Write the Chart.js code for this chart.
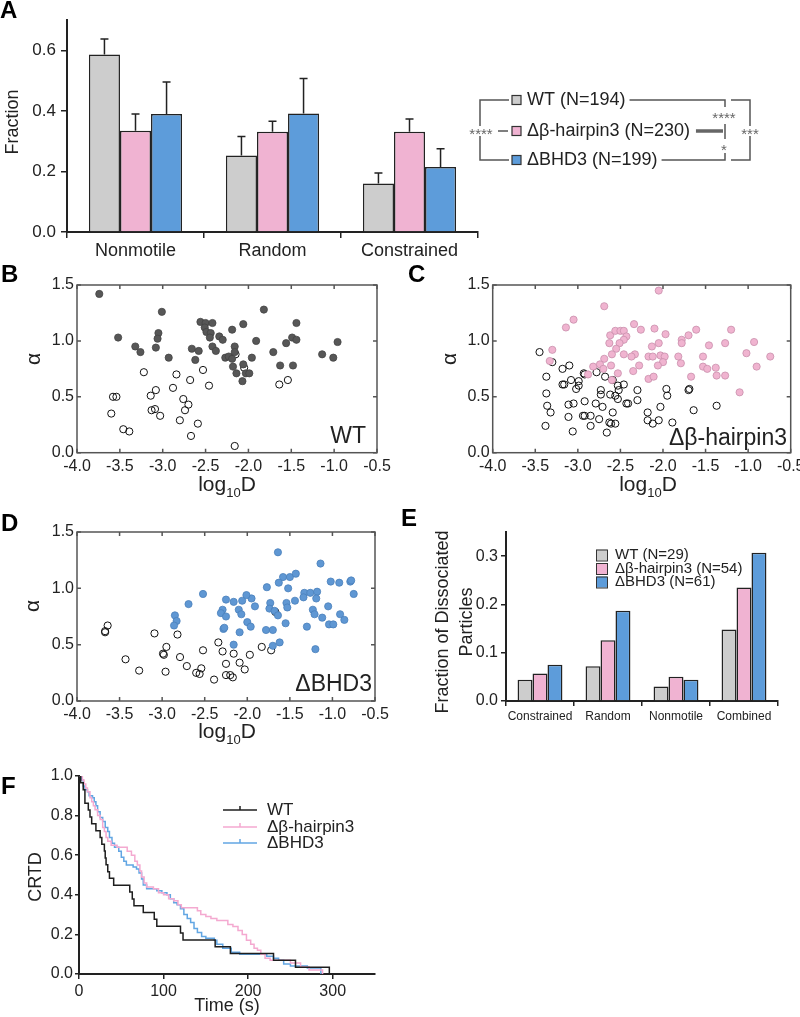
<!DOCTYPE html>
<html>
<head>
<meta charset="utf-8">
<script src="https://cdn.jsdelivr.net/npm/chart.js@4.4.1/dist/chart.umd.min.js"></script>
<style>
  html, body { margin: 0; padding: 0; background: #fff; }
  body { width: 800px; height: 1017px; position: relative; overflow: hidden; }
  canvas { position: absolute; }
  .tag { position: absolute; font: bold 24px "Liberation Sans", Arial, sans-serif; color: #000; line-height: 1; }
</style>
</head>
<body>
<canvas id="chartA" width="800" height="270" style="left:0;top:0"></canvas>
<canvas id="chartB" width="400" height="245" style="left:0;top:270px"></canvas>
<canvas id="chartC" width="400" height="245" style="left:400px;top:270px"></canvas>
<canvas id="chartD" width="400" height="250" style="left:0;top:500px"></canvas>
<canvas id="chartE" width="400" height="230" style="left:400px;top:500px"></canvas>
<canvas id="chartF" width="400" height="287" style="left:0;top:730px"></canvas>
<div class="tag" style="left:0;top:-2px">A</div>
<div class="tag" style="left:1px;top:262px">B</div>
<div class="tag" style="left:408px;top:262px">C</div>
<div class="tag" style="left:1px;top:511px">D</div>
<div class="tag" style="left:401px;top:506px">E</div>
<div class="tag" style="left:1px;top:774px">F</div>
<script>
// ---- data ----
// panel A: fraction of each motion type
var motionTypes = ['Nonmotile', 'Random', 'Constrained'];
var wtFraction = [0.586, 0.253, 0.160];
var wtFractionErr = [0.051, 0.062, 0.035];
var hpFraction = [0.334, 0.331, 0.331];
var hpFractionErr = [0.056, 0.035, 0.042];
var bhdFraction = [0.390, 0.391, 0.215];
var bhdFractionErr = [0.105, 0.116, 0.060];
var legendNamesA = ['WT (N=194)', 'Δβ-hairpin3 (N=230)', 'ΔBHD3 (N=199)'];

// panel B: WT, [log10D, alpha]
var wtMobile = [[-3.74,1.42],[-3.52,1.03],[-3.01,1.26],[-3.05,1.07],[-3.06,1.02],[-3.08,0.94],[-3.32,0.95],[-3.26,0.90],
  [-2.93,0.85],[-2.66,0.93],[-2.58,0.91],[-2.62,0.83],[-2.56,1.17],[-2.50,1.16],[-2.42,1.16],[-2.51,1.12],[-2.49,1.08],
  [-2.44,1.07],[-2.45,1.03],[-2.42,0.95],[-2.38,0.91],[-2.34,1.04],[-2.30,1.01],[-2.27,0.85],[-2.23,0.86],[-2.19,0.84],
  [-2.19,1.10],[-2.16,0.95],[-2.16,0.90],[-2.18,0.77],[-2.14,0.71],[-2.07,0.64],[-2.06,1.15],[-2.06,0.79],[-2.03,0.71],
  [-1.99,0.71],[-1.96,0.85],[-1.91,1.00],[-1.82,1.28],[-1.71,0.90],[-1.63,0.78],[-1.56,0.98],[-1.49,1.03],[-1.44,1.16],
  [-1.44,1.01],[-1.48,0.78],[-1.14,0.88],[-1.01,0.85],[-0.96,0.99]];
var wtConfined = [[-3.22,0.72],[-2.84,0.70],[-2.68,0.65],[-2.53,0.74],[-2.46,0.60],[-2.88,0.58],[-3.08,0.56],[-3.14,0.51],
  [-3.58,0.50],[-3.54,0.50],[-2.76,0.48],[-2.70,0.43],[-2.74,0.38],[-3.13,0.38],[-3.09,0.39],[-3.03,0.33],[-3.60,0.35],
  [-3.46,0.21],[-3.39,0.19],[-2.80,0.29],[-2.59,0.26],[-2.67,0.15],[-2.16,0.06],[-2.15,0.88],[-2.05,0.76],[-1.64,0.61],
  [-1.54,0.65]];

// panel C: delta beta-hairpin3
var hpMobile = [[-2.69,1.31],[-3.05,1.19],[-3.14,1.12],[-3.30,0.92],[-3.33,0.82],[-2.62,1.05],[-2.56,1.09],[-2.50,1.09],
  [-2.46,1.09],[-2.43,1.04],[-2.46,1.01],[-2.51,0.98],[-2.55,0.93],[-2.63,0.98],[-2.60,0.88],[-2.69,0.84],[-2.74,0.79],
  [-2.82,0.77],[-2.70,0.75],[-2.61,0.78],[-2.53,0.71],[-2.60,0.65],[-2.34,1.15],[-2.26,1.10],[-2.33,0.88],[-2.37,0.86],
  [-2.28,0.78],[-2.35,0.73],[-2.46,0.88],[-2.88,0.70],[-2.17,0.86],[-2.17,0.66],[-2.05,1.45],[-2.10,1.11],[-1.97,1.06],
  [-2.13,0.95],[-2.05,0.98],[-2.12,0.86],[-2.03,0.87],[-1.98,0.86],[-2.00,0.81],[-2.06,0.78],[-2.11,0.68],[-1.82,0.86],
  [-1.79,0.80],[-1.78,1.01],[-1.78,0.98],[-1.70,1.05],[-1.61,1.10],[-1.67,0.68],[-1.53,0.86],[-1.53,0.77],[-1.48,0.75],
  [-1.46,0.96],[-1.38,0.76],[-1.37,0.69],[-1.27,0.69],[-1.27,0.98],[-1.20,1.10],[-1.02,0.89],[-0.93,0.99],[-0.90,0.77],
  [-0.74,0.86],[-1.10,0.54]];
var hpConfined = [[-3.45,0.90],[-3.30,0.81],[-3.18,0.75],[-3.10,0.78],[-3.37,0.68],[-3.37,0.53],[-3.36,0.42],[-3.32,0.36],
  [-3.38,0.24],[-3.18,0.61],[-3.16,0.61],[-3.08,0.65],[-2.99,0.64],[-3.02,0.57],[-2.99,0.60],[-2.93,0.71],[-2.92,0.70],
  [-2.78,0.72],[-2.68,0.68],[-2.59,0.65],[-2.53,0.60],[-2.52,0.56],[-2.46,0.61],[-2.30,0.56],[-2.73,0.56],[-2.73,0.52],
  [-2.62,0.52],[-2.56,0.51],[-2.53,0.48],[-2.43,0.44],[-2.41,0.44],[-2.30,0.47],[-2.92,0.46],[-2.79,0.44],[-2.71,0.41],
  [-3.11,0.43],[-3.05,0.44],[-3.11,0.32],[-2.94,0.33],[-2.92,0.33],[-2.85,0.33],[-2.75,0.30],[-2.85,0.24],[-2.63,0.27],
  [-2.61,0.26],[-2.56,0.26],[-2.59,0.36],[-3.06,0.19],[-2.66,0.18],[-2.18,0.36],[-2.18,0.29],[-1.96,0.57],[-1.95,0.51],
  [-1.70,0.56],[-1.69,0.57],[-2.03,0.41],[-1.64,0.38],[-1.37,0.42],[-2.12,0.26],[-2.05,0.29],[-1.89,0.27]];

// panel D: delta BHD3
var bhdMobile = [[-2.52,0.95],[-2.69,0.86],[-2.85,0.76],[-2.83,0.71],[-2.86,0.67],[-2.25,0.90],[-2.29,0.81],[-2.31,0.78],
  [-2.25,0.75],[-2.28,0.64],[-2.27,0.65],[-1.64,1.32],[-1.14,1.22],[-1.58,1.10],[-1.50,1.10],[-1.43,1.13],[-1.63,1.05],
  [-1.77,1.01],[-1.52,1.00],[-1.33,0.96],[-1.26,0.96],[-1.18,0.97],[-1.19,0.91],[-1.34,0.92],[-1.44,0.89],[-1.54,0.87],
  [-1.53,0.83],[-1.73,0.87],[-1.74,0.82],[-1.68,0.80],[-1.64,0.76],[-1.02,1.06],[-0.92,1.05],[-0.79,1.06],[-0.78,1.07],
  [-0.75,0.95],[-1.05,0.84],[-1.23,0.81],[-1.21,0.77],[-1.12,0.74],[-0.91,0.77],[-0.86,0.72],[-1.04,0.68],[-0.99,0.68],
  [-1.30,0.66],[-1.55,0.69],[-1.78,0.63],[-1.70,0.63],[-1.70,0.49],[-1.62,0.52],[-1.20,0.46],[-2.16,0.88],[-2.06,0.89],
  [-1.95,0.91],[-1.91,0.84],[-2.01,0.94],[-2.10,0.81],[-2.07,0.77],[-2.00,0.70],[-1.96,0.66],[-2.09,0.61],[-2.16,0.50]];
var bhdConfined = [[-3.64,0.67],[-3.67,0.62],[-3.67,0.61],[-3.43,0.37],[-3.27,0.27],[-3.09,0.60],[-2.95,0.48],[-2.99,0.42],
  [-2.98,0.41],[-2.96,0.26],[-2.82,0.59],[-2.79,0.39],[-2.71,0.31],[-2.54,0.29],[-2.60,0.25],[-2.56,0.24],[-2.52,0.45],
  [-2.39,0.19],[-2.34,0.52],[-2.29,0.44],[-2.25,0.33],[-2.25,0.23],[-1.83,0.48],[-1.72,0.45],[-2.16,0.42],[-2.09,0.34],
  [-1.97,0.41],[-2.03,0.28],[-2.20,0.23],[-2.17,0.21],[-1.67,0.79]];

// panel E: fraction of dissociated particles
var dissCategories = ['Constrained', 'Random', 'Nonmotile', 'Combined'];
var wtDiss = [0.044, 0.072, 0.030, 0.148];
var hpDiss = [0.057, 0.126, 0.050, 0.235];
var bhdDiss = [0.075, 0.187, 0.044, 0.307];
var legendNamesE = ['WT (N=29)', 'Δβ-hairpin3 (N=54)', 'ΔBHD3 (N=61)'];

// panel F: CRTD curves, [time s, value]
var wtCrtd = [[0,1.0],[2,0.966],[5,0.931],[7,0.862],[11,0.828],[13,0.793],[15,0.759],[20,0.724],[25,0.690],[27,0.655],
  [30,0.621],[31,0.586],[32,0.552],[34,0.517],[36,0.483],[41,0.448],[60,0.414],[63,0.379],[65,0.345],[76,0.310],
  [89,0.276],[92,0.241],[120,0.207],[123,0.172],[161,0.138],[179,0.103],[230,0.069],[256,0.034],[296,0.0]];
var hpCrtd = [[0,1.0],[4,0.98],[6,0.96],[8,0.94],[10,0.92],[13,0.89],[15,0.87],[17,0.85],[19,0.83],[22,0.80],[25,0.78],
  [28,0.74],[30,0.72],[32,0.69],[34,0.67],[38,0.65],[45,0.64],[57,0.62],[62,0.60],[66,0.57],[69,0.55],[72,0.52],
  [74,0.49],[77,0.46],[80,0.44],[88,0.43],[94,0.41],[100,0.40],[106,0.38],[112,0.37],[117,0.35],[121,0.335],[140,0.32],
  [144,0.30],[150,0.29],[156,0.28],[163,0.27],[176,0.25],[182,0.24],[188,0.22],[193,0.20],[198,0.17],[203,0.15],
  [207,0.13],[211,0.12],[215,0.10],[220,0.08],[226,0.07],[250,0.055],[262,0.035],[272,0.02],[288,0.0]];
var bhdCrtd = [[0,1.0],[3,0.98],[5,0.95],[7,0.93],[10,0.92],[12,0.90],[16,0.89],[18,0.87],[20,0.85],[22,0.82],[25,0.79],
  [28,0.77],[31,0.74],[34,0.72],[36,0.69],[39,0.66],[42,0.64],[47,0.62],[50,0.59],[53,0.57],[56,0.55],[64,0.54],
  [68,0.53],[71,0.51],[74,0.48],[76,0.45],[80,0.43],[92,0.42],[98,0.41],[104,0.40],[108,0.38],[112,0.36],[116,0.35],
  [120,0.33],[124,0.30],[128,0.28],[132,0.26],[136,0.23],[140,0.21],[145,0.19],[150,0.18],[160,0.17],[163,0.15],
  [170,0.13],[180,0.11],[190,0.10],[222,0.09],[230,0.08],[236,0.07],[242,0.05],[250,0.04],[270,0.03],[286,0.0]];
var legendNamesF = ['WT', 'Δβ-hairpin3', 'ΔBHD3'];

// ---- style ----
var FONT = '"Liberation Sans", Arial, sans-serif';
var GRAY = '#cdcdcd', PINK = '#f0b3d2', BLUE = '#5d9cda';
var INK = '#222';
Chart.defaults.font.family = FONT;
Chart.defaults.color = INK;

// fix axis thickness so the plot areas land where they should
function fitAxis(size) {
    return function(s) {
        if (s.isHorizontal()) s.height = size; else s.width = size;
        s.paddingLeft = 0; s.paddingRight = 0; s.paddingTop = 0; s.paddingBottom = 0;
    };
}

function toXY(pts) {
    return pts.map(function(p) { return {x: p[0], y: p[1]}; });
}

function rotatedText(ctx, text, x, y, font) {
    ctx.save();
    ctx.translate(x, y);
    ctx.rotate(-Math.PI / 2);
    ctx.font = font;
    ctx.fillStyle = INK;
    ctx.textAlign = 'center';
    ctx.textBaseline = 'middle';
    ctx.fillText(text, 0, 0);
    ctx.restore();
}

function drawLogD(ctx, cx, base) {
    var big = '21px ' + FONT, small = '13px ' + FONT;
    ctx.save();
    ctx.fillStyle = INK;
    ctx.textAlign = 'left';
    ctx.textBaseline = 'alphabetic';
    ctx.font = big;
    var w1 = ctx.measureText('log').width, w3 = ctx.measureText('D').width;
    ctx.font = small;
    var w2 = ctx.measureText('10').width;
    var x = cx - (w1 + w2 + w3) / 2;
    ctx.font = big; ctx.fillText('log', x, base); x += w1;
    ctx.font = small; ctx.fillText('10', x, base + 6); x += w2;
    ctx.font = big; ctx.fillText('D', x, base);
    ctx.restore();
}

function errorBars(errs) {
    return {
        id: 'errorBars',
        afterDatasetsDraw: function(chart) {
            var ctx = chart.ctx, ys = chart.scales.y;
            ctx.save();
            ctx.strokeStyle = INK;
            ctx.lineWidth = 1.5;
            chart.data.datasets.forEach(function(ds, i) {
                chart.getDatasetMeta(i).data.forEach(function(bar, j) {
                    var top = ys.getPixelForValue(ds.data[j] + errs[i][j]);
                    ctx.beginPath();
                    ctx.moveTo(bar.x, bar.y);
                    ctx.lineTo(bar.x, top);
                    ctx.moveTo(bar.x - 4, top);
                    ctx.lineTo(bar.x + 4, top);
                    ctx.stroke();
                });
            });
            ctx.restore();
        }
    };
}

function line(ctx, pts) {
    ctx.beginPath();
    ctx.moveTo(pts[0][0], pts[0][1]);
    for (var i = 1; i < pts.length; i++) ctx.lineTo(pts[i][0], pts[i][1]);
    ctx.stroke();
}

function stars(ctx, s, x, y) {
    ctx.font = '15px ' + FONT;
    var w = ctx.measureText(s).width;
    ctx.fillStyle = '#fff';
    ctx.fillRect(x - w / 2 - 1, y - 5, w + 2, 10);
    ctx.fillStyle = '#666';
    ctx.textAlign = 'center';
    ctx.textBaseline = 'middle';
    ctx.fillText(s, x, y + 4);
}

// ---- A: grouped bars with error bars ----
var legendA = {
    id: 'legendA',
    afterDraw: function(chart) {
        var ctx = chart.ctx;
        var rows = [100, 131, 160], cols = [GRAY, PINK, BLUE];
        ctx.save();
        ctx.font = '18px ' + FONT;
        ctx.textBaseline = 'middle';
        var widths = [];
        rows.forEach(function(y, i) {
            ctx.fillStyle = cols[i];
            ctx.fillRect(512, y - 4.5, 9, 9);
            ctx.strokeStyle = '#333';
            ctx.lineWidth = 1.2;
            ctx.strokeRect(512, y - 4.5, 9, 9);
            ctx.fillStyle = INK;
            ctx.textAlign = 'left';
            ctx.font = '18px ' + FONT;
            ctx.fillText(legendNamesA[i], 527, y);
            widths.push(ctx.measureText(legendNamesA[i]).width);
        });
        ctx.strokeStyle = '#555';
        ctx.lineWidth = 1.5;
        line(ctx, [[509, 100], [480, 100], [480, 160], [509, 160]]);
        line(ctx, [[498, 131], [508, 131]]);
        line(ctx, [[527 + widths[0] + 4, 100], [725, 100], [725, 107]]);
        line(ctx, [[527 + widths[2] + 4, 160], [725, 160], [725, 153]]);
        line(ctx, [[725, 124], [725, 139]]);
        line(ctx, [[731, 100], [750, 100], [750, 160], [731, 160]]);
        ctx.lineWidth = 3.5;
        ctx.strokeStyle = '#666';
        line(ctx, [[527 + widths[1] + 6, 131], [723, 131]]);
        stars(ctx, '****', 481, 131);
        stars(ctx, '****', 724, 115);
        stars(ctx, '*', 724, 147);
        stars(ctx, '***', 750, 131);
        rotatedText(ctx, 'Fraction', 13, 122, '18px ' + FONT);
        ctx.restore();
    }
};

new Chart(document.getElementById('chartA'), {
    type: 'bar',
    data: {
        labels: motionTypes,
        datasets: [
            {data: wtFraction, backgroundColor: GRAY},
            {data: hpFraction, backgroundColor: PINK},
            {data: bhdFraction, backgroundColor: BLUE}
        ].map(function(d) {
            d.borderColor = INK; d.borderWidth = 1.5;
            d.categoryPercentage = 0.68; d.barPercentage = 1.0;
            return d;
        })
    },
    options: {
        responsive: false,
        animation: false,
        events: [],
        layout: {padding: {left: 0, top: 20, right: 322, bottom: 0}},
        plugins: {legend: {display: false}, tooltip: {enabled: false}},
        scales: {
            x: {
                afterFit: fitAxis(38),
                grid: {offset: true, drawOnChartArea: false, tickLength: 6, color: INK, lineWidth: 1.5},
                border: {color: INK, width: 2},
                ticks: {font: {size: 18}, padding: 2, maxRotation: 0}
            },
            y: {
                min: 0, max: 0.7,
                afterFit: fitAxis(67),
                grid: {drawOnChartArea: false, tickLength: 6, color: INK, lineWidth: 1.5},
                border: {color: INK, width: 2},
                ticks: {stepSize: 0.2, includeBounds: false, font: {size: 17}, padding: 5,
                    callback: function(v) { return v.toFixed(1); }}
            }
        }
    },
    plugins: [errorBars([wtFractionErr, hpFractionErr, bhdFractionErr]), legendA]
});

// ---- B, C, D: alpha vs log10D scatter ----
function scatterPanel(id, confined, mobile, fill, edge, name, g) {
    var canvas = document.getElementById(id);
    var deco = {
        id: 'deco',
        afterDraw: function(chart) {
            var ctx = chart.ctx, a = chart.chartArea, xs = chart.scales.x, ys = chart.scales.y;
            ctx.save();
            ctx.strokeStyle = '#555';
            ctx.lineWidth = 1.5;
            ctx.strokeRect(a.left, a.top, a.right - a.left, a.bottom - a.top);
            ctx.beginPath();
            xs.ticks.forEach(function(t) {
                var p = xs.getPixelForValue(t.value);
                ctx.moveTo(p, a.bottom); ctx.lineTo(p, a.bottom - 4);
                ctx.moveTo(p, a.top); ctx.lineTo(p, a.top + 4);
            });
            ys.ticks.forEach(function(t) {
                var p = ys.getPixelForValue(t.value);
                ctx.moveTo(a.left, p); ctx.lineTo(a.left + 4, p);
                ctx.moveTo(a.right, p); ctx.lineTo(a.right - 4, p);
            });
            ctx.stroke();
            ctx.restore();
            rotatedText(ctx, 'α', g.alphaX, g.alphaY, '21px ' + FONT);
            drawLogD(ctx, g.titleX, g.titleY);
            ctx.save();
            ctx.font = '23px ' + FONT;
            ctx.fillStyle = INK;
            ctx.textAlign = 'right';
            ctx.textBaseline = 'alphabetic';
            ctx.fillText(name, g.nameX, g.nameY);
            ctx.restore();
        }
    };
    new Chart(canvas, {
        type: 'scatter',
        data: {
            datasets: [
                {data: toXY(mobile), pointRadius: 3.6, pointBackgroundColor: fill,
                    pointBorderColor: edge, pointBorderWidth: 0.8},
                {data: toXY(confined), pointRadius: 3.6, pointBackgroundColor: 'rgba(255,255,255,0)',
                    pointBorderColor: '#111', pointBorderWidth: 1}
            ]
        },
        options: {
            responsive: false,
            animation: false,
            events: [],
            layout: {padding: {left: 0, top: g.top, right: canvas.width - g.right, bottom: 0}},
            plugins: {legend: {display: false}, tooltip: {enabled: false}},
            scales: {
                x: {
                    type: 'linear', min: -4, max: -0.5,
                    afterFit: fitAxis(canvas.height - g.bottom),
                    grid: {display: false, drawTicks: false},
                    border: {display: false},
                    ticks: {stepSize: 0.5, includeBounds: false, padding: 4, font: {size: 16},
                        maxRotation: 0, autoSkip: false,
                        callback: function(v) { return v.toFixed(1); }}
                },
                y: {
                    min: 0, max: 1.5,
                    afterFit: fitAxis(g.left),
                    grid: {display: false, drawTicks: false},
                    border: {display: false},
                    ticks: {stepSize: 0.5, includeBounds: false, padding: 3, font: {size: 16},
                        callback: function(v) { return v.toFixed(1); }}
                }
            }
        },
        plugins: [deco]
    });
}

scatterPanel('chartB', wtConfined, wtMobile, '#575757', '#444', 'WT',
    {left: 77, right: 377, top: 15, bottom: 182.7, alphaX: 34, alphaY: 89, titleX: 227, titleY: 221, nameX: 366, nameY: 173});
scatterPanel('chartC', hpConfined, hpMobile, '#f0b4d0', '#c98fac', 'Δβ-hairpin3',
    {left: 92.7, right: 390.7, top: 15, bottom: 182.7, alphaX: 50, alphaY: 89, titleX: 248, titleY: 221, nameX: 387, nameY: 175});
scatterPanel('chartD', bhdConfined, bhdMobile, '#5f97d3', '#4a80bb', 'ΔBHD3',
    {left: 77, right: 375, top: 32, bottom: 201, alphaX: 33, alphaY: 106, titleX: 227, titleY: 238, nameX: 372, nameY: 191});

// ---- E: dissociated fraction ----
var legendE = {
    id: 'legendE',
    afterDraw: function(chart) {
        var ctx = chart.ctx;
        var rows = [55, 68.5, 82], cols = [GRAY, PINK, BLUE];
        ctx.save();
        ctx.font = '15px ' + FONT;
        ctx.textBaseline = 'middle';
        ctx.textAlign = 'left';
        rows.forEach(function(y, i) {
            ctx.fillStyle = cols[i];
            ctx.fillRect(196, y - 5.5, 11, 11);
            ctx.strokeStyle = '#333';
            ctx.lineWidth = 1;
            ctx.strokeRect(196.5, y - 5, 11, 11);
            ctx.fillStyle = INK;
            ctx.fillText(legendNamesE[i], 215, y);
        });
        ctx.restore();
        rotatedText(ctx, 'Fraction of Dissociated', 43, 122, '18px ' + FONT);
        rotatedText(ctx, 'Particles', 67, 122, '18px ' + FONT);
    }
};

new Chart(document.getElementById('chartE'), {
    type: 'bar',
    data: {
        labels: dissCategories,
        datasets: [
            {data: wtDiss, backgroundColor: GRAY},
            {data: hpDiss, backgroundColor: PINK},
            {data: bhdDiss, backgroundColor: BLUE}
        ].map(function(d) {
            d.borderColor = INK; d.borderWidth = 1.5;
            d.categoryPercentage = 0.66; d.barPercentage = 1.0;
            return d;
        })
    },
    options: {
        responsive: false,
        animation: false,
        events: [],
        layout: {padding: {left: 0, top: 32, right: 22, bottom: 0}},
        plugins: {legend: {display: false}, tooltip: {enabled: false}},
        scales: {
            x: {
                afterFit: fitAxis(29),
                grid: {offset: true, drawOnChartArea: false, tickLength: 5, color: INK, lineWidth: 1.5},
                border: {color: INK, width: 2},
                ticks: {font: {size: 12}, padding: 3, maxRotation: 0, autoSkip: false}
            },
            y: {
                min: 0, max: 0.35,
                afterFit: fitAxis(106),
                grid: {drawOnChartArea: false, tickLength: 5, color: INK, lineWidth: 1.5},
                border: {color: INK, width: 2},
                ticks: {stepSize: 0.1, includeBounds: false, font: {size: 16}, padding: 3,
                    callback: function(v) { return v.toFixed(1); }}
            }
        }
    },
    plugins: [legendE]
});

// ---- F: CRTD step curves ----
var lineColors = ['#1e1e1e', '#f4a9d0', '#62a6e3'];
var legendF = {
    id: 'legendF',
    afterDraw: function(chart) {
        var ctx = chart.ctx;
        var rows = [80, 97, 113];
        ctx.save();
        rows.forEach(function(y, i) {
            ctx.strokeStyle = lineColors[i];
            ctx.lineWidth = 1.5;
            line(ctx, [[223, y], [257, y]]);
            line(ctx, [[240, y], [240, y - 4]]);
            ctx.fillStyle = INK;
            ctx.font = '17px ' + FONT;
            ctx.textAlign = 'left';
            ctx.textBaseline = 'middle';
            ctx.fillText(legendNamesF[i], 267, y);
        });
        ctx.font = '18px ' + FONT;
        ctx.textAlign = 'center';
        ctx.fillText('Time (s)', 227, 276);
        ctx.restore();
        rotatedText(ctx, 'CRTD', 36, 147, '18px ' + FONT);
    }
};

new Chart(document.getElementById('chartF'), {
    type: 'line',
    data: {
        datasets: [wtCrtd, hpCrtd, bhdCrtd].map(function(pts, i) {
            return {data: toXY(pts), borderColor: lineColors[i], borderWidth: 1.5,
                pointRadius: 0, stepped: 'before', fill: false};
        })
    },
    options: {
        responsive: false,
        animation: false,
        events: [],
        layout: {padding: {left: 0, top: 46, right: 25, bottom: 0}},
        plugins: {legend: {display: false}, tooltip: {enabled: false}},
        scales: {
            x: {
                type: 'linear', min: 0, max: 350,
                afterFit: fitAxis(43),
                grid: {drawOnChartArea: false, tickLength: 5, color: INK, lineWidth: 1.5},
                border: {color: INK, width: 2},
                ticks: {stepSize: 100, includeBounds: false, font: {size: 16}, padding: 3, maxRotation: 0}
            },
            y: {
                min: 0, max: 1,
                afterFit: fitAxis(79),
                grid: {drawOnChartArea: false, tickLength: 4, color: INK, lineWidth: 1.5},
                border: {color: INK, width: 2},
                ticks: {stepSize: 0.2, font: {size: 16}, padding: 2,
                    callback: function(v) { return v.toFixed(1); }}
            }
        }
    },
    plugins: [legendF]
});
</script>
</body>
</html>
